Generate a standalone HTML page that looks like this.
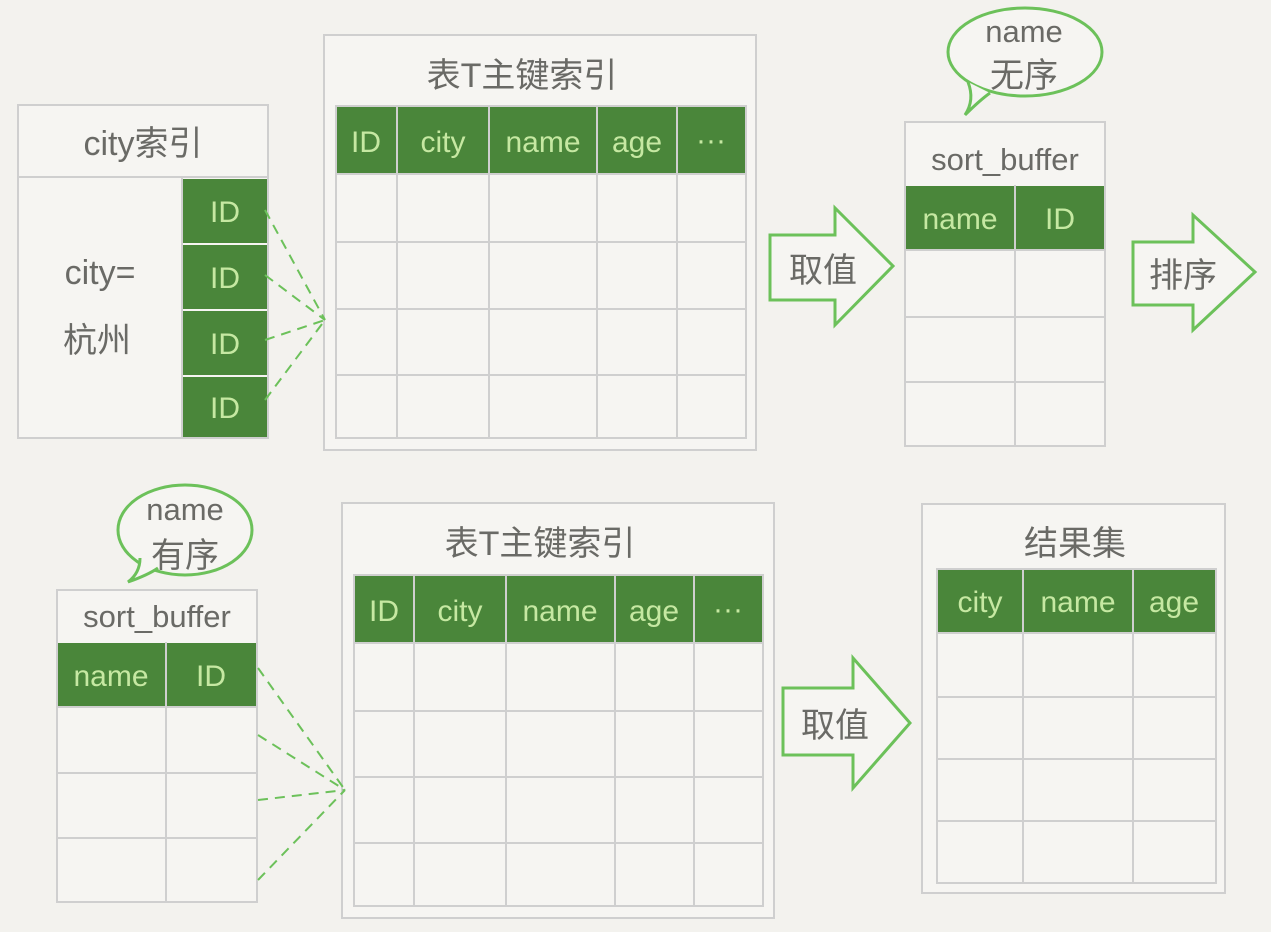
<!DOCTYPE html>
<html><head><meta charset="utf-8"><style>
html,body{margin:0;padding:0;background:#f3f2ee;}
svg{display:block}
text{font-family:"Liberation Sans","Noto Sans CJK SC",sans-serif;}
</style></head><body>
<svg width="1271" height="932" viewBox="0 0 1271 932" xmlns="http://www.w3.org/2000/svg">
<rect width="1271" height="932" fill="#f3f2ee"/>
<g fill="none" stroke="#cfcfcf" stroke-width="2">
<rect x="18" y="105" width="250" height="333" fill="#f6f5f2"/>
<line x1="18" y1="177" x2="268" y2="177"/>
<line x1="182" y1="177" x2="182" y2="438"/>
<rect x="324" y="35" width="432" height="415" fill="#f6f5f2"/>
<rect x="336" y="106" width="410" height="332"/>
<path d="M397 106V438M489 106V438M597 106V438M677 106V438M336 174H746M336 242H746M336 309H746M336 375H746"/>
<rect x="905" y="122" width="200" height="324" fill="#f6f5f2"/>
<path d="M1015 185V446M905 317H1105M905 382H1105M905 250H1105"/>
<rect x="57" y="590" width="200" height="312" fill="#f6f5f2"/>
<path d="M166 642V902M57 773H257M57 838H257M57 707H257"/>
<rect x="342" y="503" width="432" height="415" fill="#f6f5f2"/>
<rect x="354" y="575" width="409" height="331"/>
<path d="M414 575V906M506 575V906M615 575V906M694 575V906M354 643H763M354 711H763M354 777H763M354 843H763"/>
<rect x="922" y="504" width="303" height="389" fill="#f6f5f2"/>
<rect x="937" y="569" width="279" height="314"/>
<path d="M1023 569V883M1133 569V883M937 633H1216M937 697H1216M937 759H1216M937 821H1216"/>
</g>
<g fill="#4a863a">
<rect x="183" y="179" width="84" height="64"/><rect x="183" y="245" width="84" height="64"/><rect x="183" y="311" width="84" height="64"/><rect x="183" y="377" width="84" height="60"/>
<rect x="337" y="107" width="59" height="66"/><rect x="398" y="107" width="90" height="66"/><rect x="490" y="107" width="106" height="66"/><rect x="598" y="107" width="78" height="66"/><rect x="678" y="107" width="67" height="66"/>
<rect x="906" y="186" width="108" height="63"/><rect x="1016" y="186" width="88" height="63"/>
<rect x="58" y="643" width="107" height="63"/><rect x="167" y="643" width="89" height="63"/>
<rect x="355" y="576" width="58" height="66"/><rect x="415" y="576" width="90" height="66"/><rect x="507" y="576" width="107" height="66"/><rect x="616" y="576" width="77" height="66"/><rect x="695" y="576" width="67" height="66"/>
<rect x="938" y="570" width="84" height="62"/><rect x="1024" y="570" width="108" height="62"/><rect x="1134" y="570" width="81" height="62"/>
</g>
<g fill="none" stroke="#6cc15a" stroke-width="3">
<ellipse cx="1025" cy="52" rx="77" ry="44" fill="#f6f5f2"/>
<path d="M968 82 Q975 100 965 115 Q980 100 990 93" fill="#f6f5f2"/>
<ellipse cx="185" cy="530" rx="67" ry="45" fill="#f6f5f2"/>
<path d="M140 558 Q140 573 128 582 Q148 575 158 568" fill="#f6f5f2"/>
<path d="M770 235H835V208L893 266L835 325V300H770Z" fill="#f6f5f2"/>
<path d="M1133 242H1193V215L1255 272L1193 330V305H1133Z" fill="#f6f5f2"/>
<path d="M783 688H853V658L910 723L853 788V755H783Z" fill="#f6f5f2"/>
</g>
<g fill="none" stroke="#6cc15a" stroke-width="2" stroke-dasharray="10,7">
<path d="M265 210L325 320M265 275L325 320M265 340L325 320M265 400L325 320"/>
<path d="M258 668L345 790M258 735L345 790M258 800L345 790M258 880L345 790"/>
</g>
<g fill="#c6e8a2" font-size="30" text-anchor="middle">
<text x="225" y="222">ID</text><text x="225" y="288">ID</text><text x="225" y="354">ID</text><text x="225" y="418">ID</text>
<text x="366" y="152">ID</text><text x="443" y="152">city</text><text x="543" y="152">name</text><text x="637" y="152">age</text><text x="711" y="150">···</text>
<text x="960" y="229">name</text><text x="1060" y="229">ID</text>
<text x="111" y="686">name</text><text x="211" y="686">ID</text>
<text x="384" y="621">ID</text><text x="460" y="621">city</text><text x="560" y="621">name</text><text x="654" y="621">age</text><text x="728" y="619">···</text>
<text x="980" y="612">city</text><text x="1078" y="612">name</text><text x="1174" y="612">age</text>
</g>
<g fill="#6a6a66" font-size="34" text-anchor="middle">
<text x="143" y="155">city索引</text>
<text x="100" y="284">city=</text>
<text x="97" y="352">杭州</text>
<text x="522" y="87">表T主键索引</text>
<text x="540" y="555">表T主键索引</text>
<text x="1075" y="555">结果集</text>
<text x="1005" y="170" font-size="31">sort_buffer</text>
<text x="157" y="627" font-size="31">sort_buffer</text>
<text x="1024" y="42" font-size="31">name</text><text x="1024" y="87">无序</text>
<text x="185" y="520" font-size="31">name</text><text x="185" y="567">有序</text>
<text x="823" y="282">取值</text>
<text x="1183" y="287">排序</text>
<text x="835" y="737">取值</text>
</g>
</svg>
</body></html>
